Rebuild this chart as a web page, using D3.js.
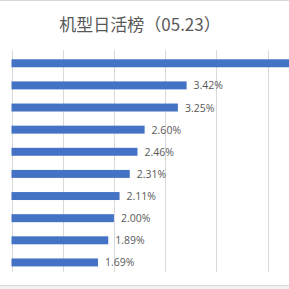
<!DOCTYPE html>
<html><head><meta charset="utf-8">
<script src="https://cdn.jsdelivr.net/npm/d3@7"></script>
<style>html,body{margin:0;padding:0;background:#fff;overflow:hidden}</style>
</head><body>
<svg id="c" width="289" height="289"></svg>
<script>
const title = "机型日活榜（05.23）";
const ranks = ["1","2","3","4","5","6","7","8","9","10"];
const values = [5.90, 3.42, 3.25, 2.60, 2.46, 2.31, 2.11, 2.00, 1.89, 1.69];
const ticks = [0, 1, 2, 3, 4, 5];

const svg = d3.select("#c");
svg.append("rect").attr("width",289).attr("height",289).attr("fill","#fff");
svg.append("line").attr("x1",0).attr("x2",289).attr("y1",0.5).attr("y2",0.5).attr("stroke","#d9d9d9");
svg.append("rect").attr("x",0).attr("y",286).attr("width",289).attr("height",3).attr("fill","#f2f2f2");
svg.append("line").attr("x1",0).attr("x2",289).attr("y1",285.5).attr("y2",285.5).attr("stroke","#d9d9d9");

const x = d3.scaleLinear().domain([0,5]).range([11.5,267.5]);
const y = d3.scaleBand().domain(ranks).range([52.2,273.5]).paddingInner(0.64).paddingOuter(0.32);

svg.append("g").selectAll("line").data(ticks).join("line")
  .attr("x1",d=>Math.round(x(d))+0.5).attr("x2",d=>Math.round(x(d))+0.5)
  .attr("y1",50).attr("y2",272).attr("stroke","#d9d9d9").attr("stroke-width",1);

svg.append("g").selectAll("rect").data(values).join("rect")
  .attr("x",x(0)).attr("y",(d,i)=>y(ranks[i]))
  .attr("width",d=>x(d)-x(0)).attr("height",y.bandwidth())
  .attr("fill","#4472C4");

// labels that fall outside the cropped view (top bar) are not shown in the reference
const labelled = values.map((v,i)=>({v,i})).filter(o=>x(o.v)+7 < 260);
svg.append("g").selectAll("text").data(labelled).join("text")
  .attr("x",o=>x(o.v)+7).attr("y",o=>y(ranks[o.i])+y.bandwidth()/2+4)
  .attr("font-family","'Open Sans', 'Noto Sans', sans-serif").attr("font-size","10.5px")
  .attr("fill","#595959").text(o=>o.v.toFixed(2)+"%");

svg.append("text").attr("x",140).attr("y",31).attr("text-anchor","middle")
  .attr("font-family","'Noto Sans CJK SC', sans-serif").attr("font-size","17px")
  .attr("fill","#595959").text(title);
</script>
</body></html>
